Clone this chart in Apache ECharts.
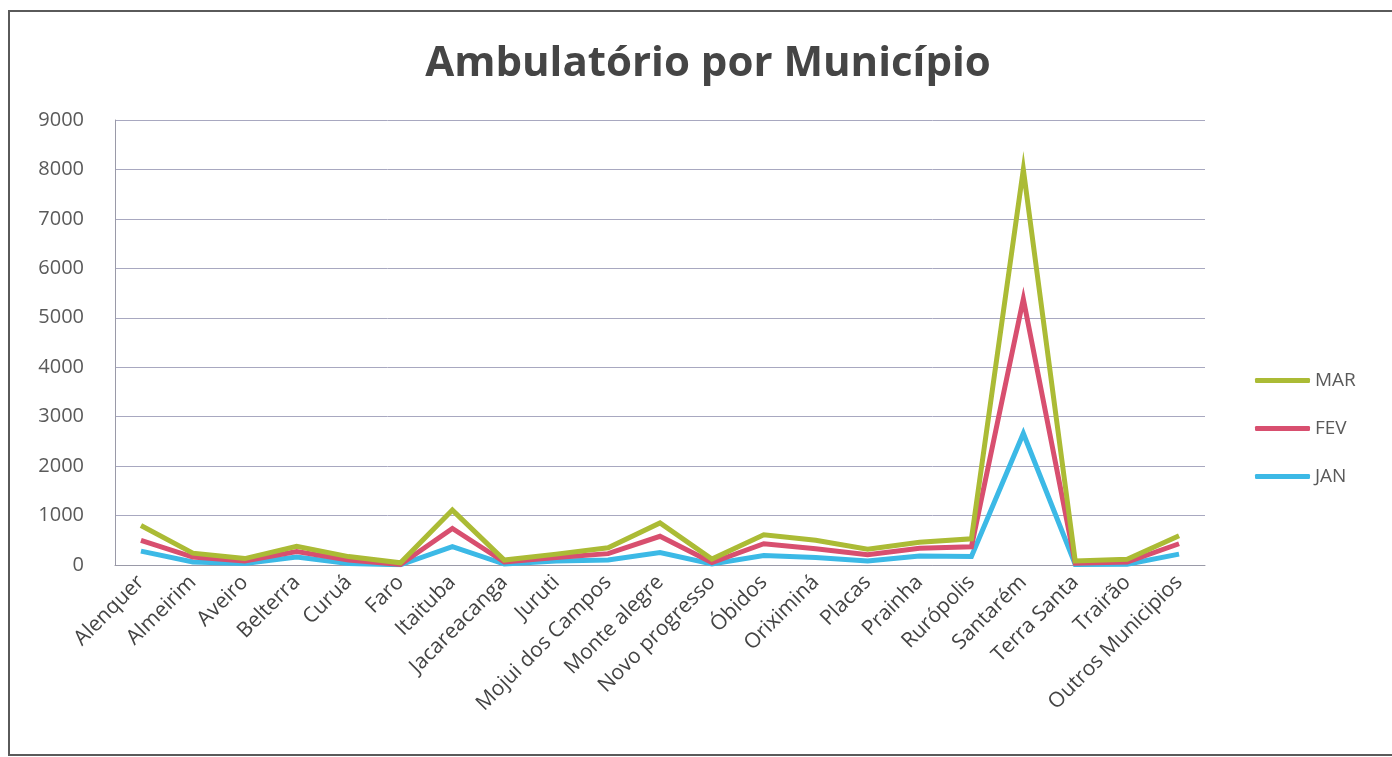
<!DOCTYPE html>
<html>
<head>
<meta charset="utf-8">
<script src="https://cdn.jsdelivr.net/npm/echarts@6/dist/echarts.min.js"></script>
<style>
  html, body { margin: 0; padding: 0; background: #fff; }
  #canvas { position: absolute; left: 0; top: 0; width: 1392px; height: 757px; }
  #frame { position: absolute; left: 8px; top: 10px; width: 1400px; height: 746px;
           border: 2px solid #5a5a5a; box-sizing: border-box; pointer-events: none; }
</style>
</head>
<body>
<div id="canvas"></div>
<div id="frame"></div>
<script>
var municipios = ['Alenquer', 'Almeirim', 'Aveiro', 'Belterra', 'Curuá', 'Faro', 'Itaituba',
    'Jacareacanga', 'Juruti', 'Mojui dos Campos', 'Monte alegre', 'Novo progresso', 'Óbidos',
    'Oriximiná', 'Placas', 'Prainha', 'Rurópolis', 'Santarém', 'Terra Santa', 'Trairão',
    'Outros Municipios'];

// monthly values (the chart stacks them: FEV on JAN, MAR on FEV)
var jan = [280, 60, 30, 160, 30, 5, 370, 20, 80, 100, 250, 20, 190, 150, 80, 180, 170, 2660, 10, 15, 220];
var fev = [220, 100, 50, 110, 70, 5, 370, 40, 70, 130, 330, 30, 240, 180, 130, 160, 200, 2720, 25, 45, 210];
var mar = [300, 80, 50, 110, 70, 35, 370, 40, 70, 120, 270, 70, 180, 170, 110, 120, 160, 2620, 45, 55, 160];

var yTicks = [0, 1000, 2000, 3000, 4000, 5000, 6000, 7000, 8000, 9000];

var colors = {JAN: '#3cb9e6', FEV: '#d84f6f', MAR: '#abbb35'};
var font = '"Open Sans", "Noto Sans", sans-serif';

var make_series = function(name, values) {
    return {
        name: name,
        type: 'line',
        stack: 'total',
        data: values,
        symbol: 'none',
        smooth: false,
        lineStyle: {width: 5, color: colors[name], join: 'miter'},
        itemStyle: {color: colors[name]}
    };
}

var myChart = echarts.init(document.getElementById('canvas'));
var option = {
    animation: false,
    backgroundColor: '#fff',
    title: {
        text: 'Ambulatório por Município',
        left: 703,
        textAlign: 'center',
        top: 38,
        textStyle: {fontFamily: font, fontSize: 42, fontWeight: 'bold', color: '#454545'}
    },
    legend: {
        orient: 'vertical',
        left: 1250,
        top: 366,
        icon: 'roundRect',
        itemWidth: 55,
        itemHeight: 5,
        itemGap: 29,
        data: ['MAR', 'FEV', 'JAN'],
        textStyle: {fontFamily: font, fontSize: 19, color: '#5a5a5a'}
    },
    grid: {left: 115, right: 187, top: 120, bottom: 192},
    xAxis: {
        type: 'category',
        data: municipios,
        boundaryGap: true,
        axisLine: {lineStyle: {color: '#9a9aa8', width: 1}},
        axisTick: {show: false},
        axisLabel: {
            rotate: 45,
            interval: 0,
            margin: 14,
            fontFamily: font,
            fontSize: 21,
            color: '#444'
        }
    },
    yAxis: {
        type: 'value',
        min: yTicks[0],
        max: yTicks[yTicks.length - 1],
        interval: 1000,
        axisLine: {show: true, lineStyle: {color: '#9a9aa8', width: 1}},
        axisTick: {show: false},
        splitLine: {lineStyle: {color: '#a8a8c0', width: 1}},
        axisLabel: {
            fontFamily: font, fontSize: 20, color: '#5a5a5a', margin: 31,
            formatter: function(v) { return String(v); }
        }
    },
    series: [
        make_series('JAN', jan),
        make_series('FEV', fev),
        make_series('MAR', mar)
    ]
};
myChart.setOption(option);
</script>
</body>
</html>
